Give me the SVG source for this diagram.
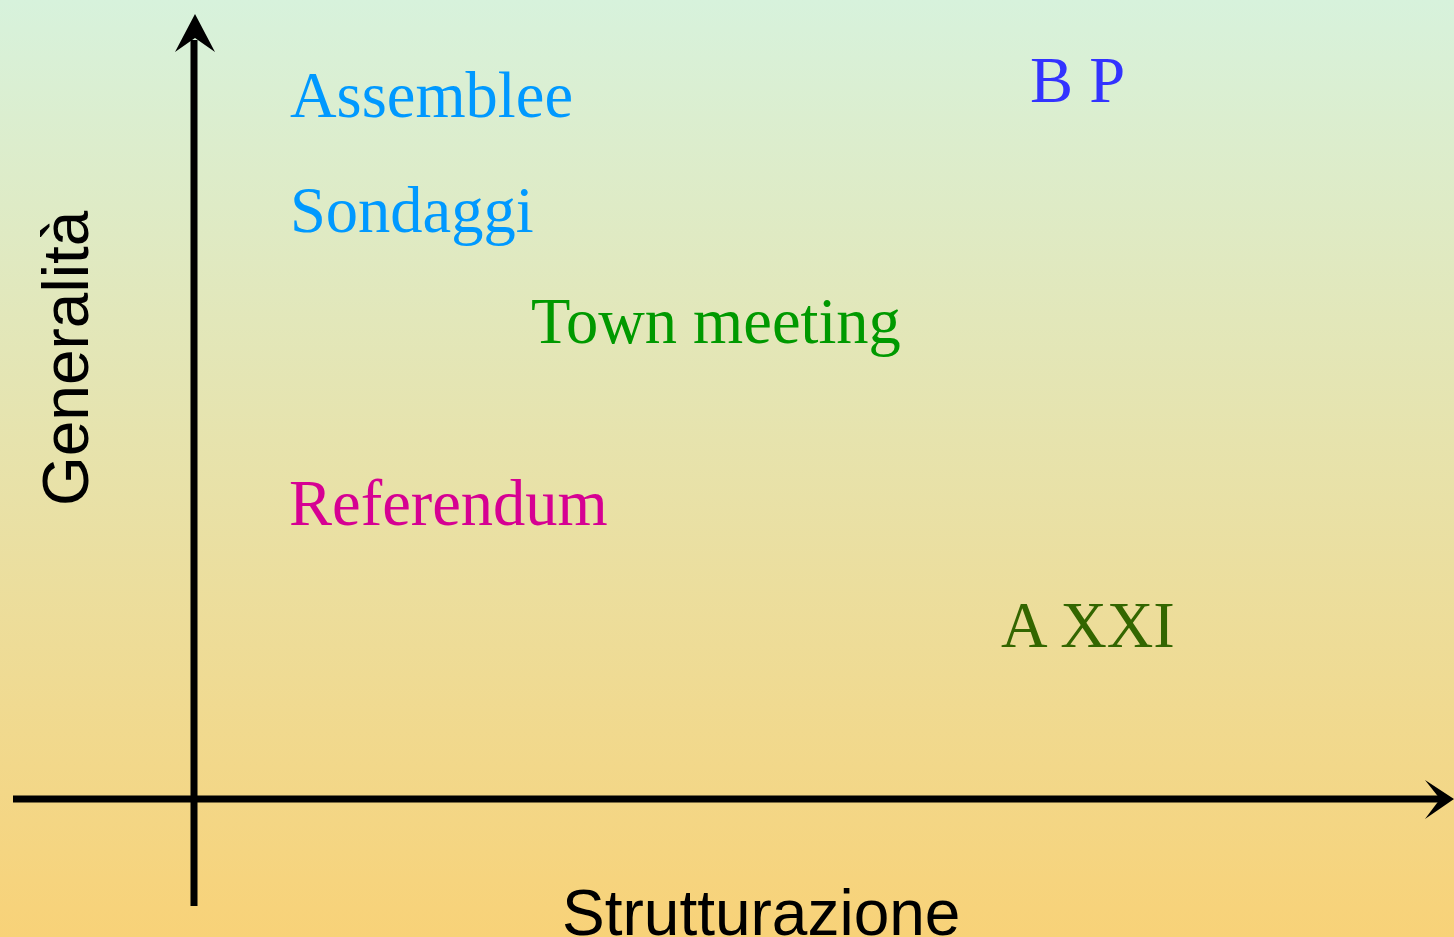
<svg xmlns="http://www.w3.org/2000/svg" width="1454" height="937" viewBox="0 0 1454 937">
<defs>
<linearGradient id="bg" x1="0" y1="0" x2="0" y2="1">
<stop offset="0" stop-color="#d7f2dc"/>
<stop offset="1" stop-color="#f8d278"/>
</linearGradient>
<style>
.lbl{font-family:"Liberation Serif","Times New Roman",serif;font-size:64.5px}
.ax{font-family:"Liberation Sans",Arial,sans-serif;font-size:64px;fill:#000}
.axis{stroke:#000;stroke-width:7;fill:none}
</style>
</defs>
<rect width="1454" height="937" fill="url(#bg)"/>
<g id="connectors">
<line class="axis" x1="194" y1="906" x2="194" y2="40"/>
<polygon points="195,14 175,52 195,38 215,52" fill="#000"/>
<line class="axis" x1="13" y1="799" x2="1442" y2="799"/>
<polygon points="1454,799 1425,780 1440,799 1425,819" fill="#000"/>
</g>
<g id="axis-y-label"><text class="ax" transform="translate(88,506) rotate(-90)">Generalità</text></g>
<g id="axis-x-label"><text class="ax" x="562" y="935">Strutturazione</text></g>
<g id="assemblee"><text class="lbl" x="290" y="117" fill="#0099ff">Assemblee</text></g>
<g id="sondaggi"><text class="lbl" x="290" y="232" fill="#0099ff">Sondaggi</text></g>
<g id="bp"><text class="lbl" x="1030" y="102" fill="#3333ff">B P</text></g>
<g id="town-meeting"><text class="lbl" x="531" y="343" fill="#009900">Town meeting</text></g>
<g id="referendum"><text class="lbl" x="289" y="525" fill="#d60093">Referendum</text></g>
<g id="axxi"><text class="lbl" x="1001" y="647" fill="#336600">A XXI</text></g>
</svg>
